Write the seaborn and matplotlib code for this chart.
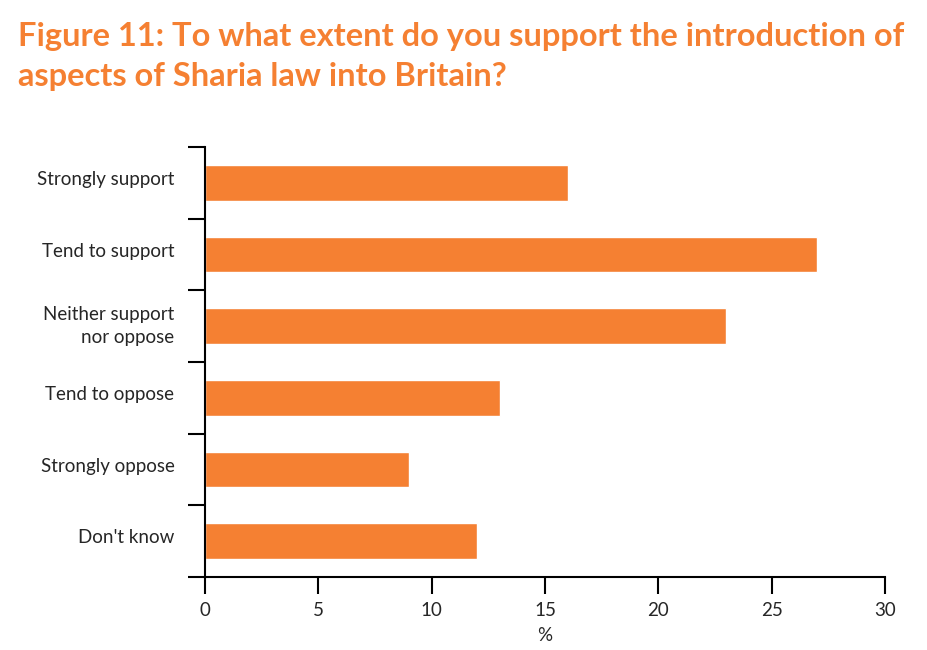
import matplotlib
matplotlib.use('Agg')
import matplotlib.pyplot as plt
import matplotlib.transforms as mtransforms
import seaborn as sns
import numpy as np
import pandas as pd

categorias = ['Strongly support', 'Tend to support', 'Neither support\nnor oppose',
              'Tend to oppose', 'Strongly oppose', "Don't know"]
valores = [16, 27, 23, 13, 9, 12]
xticks = [0, 5, 10, 15, 20, 25, 30]

laranja = '#F58032'

sns.set_style('white')
plt.rcParams['font.family'] = ['Lato', 'DejaVu Sans']

df = pd.DataFrame({'categoria': categorias, 'valor': valores})

fig = plt.figure(figsize=(9.28, 6.5), dpi=100)
ax = fig.add_axes([0.2209, 0.1123, 0.7328, 0.6615])

sns.barplot(data=df, x='valor', y='categoria', orient='h', color=laranja,
            saturation=1, width=0.5, ax=ax)

ax.set_xlim(0, 30)
ax.set_ylim(len(categorias) - 0.5, -0.5)

# ticks nas fronteiras das categorias, rótulos no centro
ax.set_yticks(np.arange(-0.5, len(categorias), 1.0))
ax.set_yticklabels([])
ax.set_yticks(np.arange(len(categorias)), minor=True)
ax.set_yticklabels(categorias, minor=True, fontsize=13.5, linespacing=1.45)
ax.tick_params(axis='y', which='minor', left=True, length=0, pad=29)
ax.tick_params(axis='y', which='major', left=True, length=12, width=1.5,
               direction='out', color='black')
ax.tick_params(axis='y', which='minor', pad=22)

# subir um pouco os rótulos
desloc = mtransforms.ScaledTranslation(0, 5 / 100, fig.dpi_scale_trans)
for lbl in ax.get_yticklabels(minor=True):
    lbl.set_transform(lbl.get_transform() + desloc)

ax.set_xticks(xticks)
ax.set_xticklabels([str(v) for v in xticks], fontsize=13.5)
ax.tick_params(axis='x', bottom=True, length=12, width=1.5, direction='out',
               color='black', pad=6)

for s in ['top', 'right']:
    ax.spines[s].set_visible(False)
for s in ['left', 'bottom']:
    ax.spines[s].set_linewidth(1.5)
    ax.spines[s].set_color('black')

ax.set_xlabel('%', fontsize=13.5, labelpad=6)
ax.set_ylabel('')

fig.text(0.019, 0.966, 'Figure 11: To what extent do you support the introduction of\naspects of Sharia law into Britain?',
         color=laranja, fontsize=23.5, fontweight='bold', va='top', ha='left', linespacing=1.45)

plt.savefig('out.png', dpi=100)
plt.close()
